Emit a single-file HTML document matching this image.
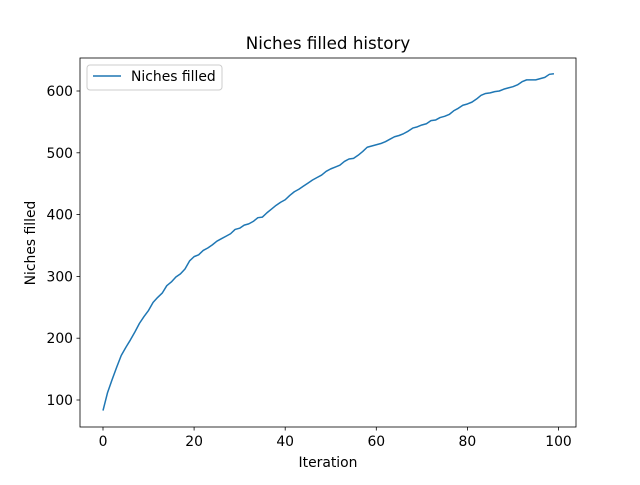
<!DOCTYPE html>
<html><head><meta charset="utf-8"><style>
body{margin:0;background:#fff}
svg{font-family:"DejaVu Sans","Liberation Sans",sans-serif}
</style></head><body>
<svg id="chart" width="640" height="480">
<rect width="640" height="480" fill="#fff"/>
<text x="328" y="49" text-anchor="middle" font-size="16.7">Niches filled history</text>
<g id="plot"></g>
<rect x="80" y="58" width="496" height="369" fill="none" stroke="#000" stroke-width="0.8"/>
<text x="328" y="467" text-anchor="middle" font-size="13.9">Iteration</text>
<text transform="translate(35,243) rotate(-90)" text-anchor="middle" font-size="13.9">Niches filled</text>
<g>
<rect x="87" y="65" width="135" height="25" rx="3" fill="#fff" stroke="#ccc"/>
<line x1="93" y1="76" x2="121" y2="76" stroke="#1f77b4" stroke-width="1.5"/>
<text x="131" y="81" font-size="13.9">Niches filled</text>
</g>
</svg>
<script>
const iterations=[...Array(100).keys()];
const niches=[83,112,133,153,172,185,197,210,224,235,245,258,266,273,285,291,299,304,312,325,332,335,342,346,351,357,361,365,369,376,378,383,385,389,395,396,403,409,415,420,424,431,437,441,446,451,456,460,464,470,474,477,480,486,490,491,496,502,509,511,513,515,518,522,526,528,531,535,540,542,545,547,552,553,557,559,562,568,572,577,579,582,587,593,596,597,599,600,603,605,607,610,615,618,618,618,620,622,627,628];
const xTicks=[0,20,40,60,80,100];
const yTicks=[100,200,300,400,500,600];
const ns="http://www.w3.org/2000/svg";
const X=v=>103+v*4.555;
const Y=v=>400-(v-100)*0.618;
const g=document.getElementById('plot');
function mk(t,a){const e=document.createElementNS(ns,t);for(const k in a)e.setAttribute(k,a[k]);g.appendChild(e);return e;}
xTicks.forEach(t=>{
 const l=mk('line',{x1:X(t),x2:X(t),y1:427,y2:430.5,stroke:'#000','stroke-width':0.8});
 
 
 const s=mk('text',{x:X(t),y:446,'text-anchor':'middle','font-size':13.9});
 s.textContent=t;
 
 
});
yTicks.forEach(t=>{
 const l=mk('line',{x1:76.5,x2:80,y1:Y(t),y2:Y(t),stroke:'#000','stroke-width':0.8});
 
 
 const s=mk('text',{x:73,y:Y(t)+5,'text-anchor':'end','font-size':13.9});
 s.textContent=t;
 
 
});
const p=mk('polyline',{points:niches.map((v,i)=>X(iterations[i])+','+Y(v)).join(' '),fill:'none',stroke:'#1f77b4','stroke-width':1.5,'stroke-linejoin':'round'});


</script>
</body></html>
